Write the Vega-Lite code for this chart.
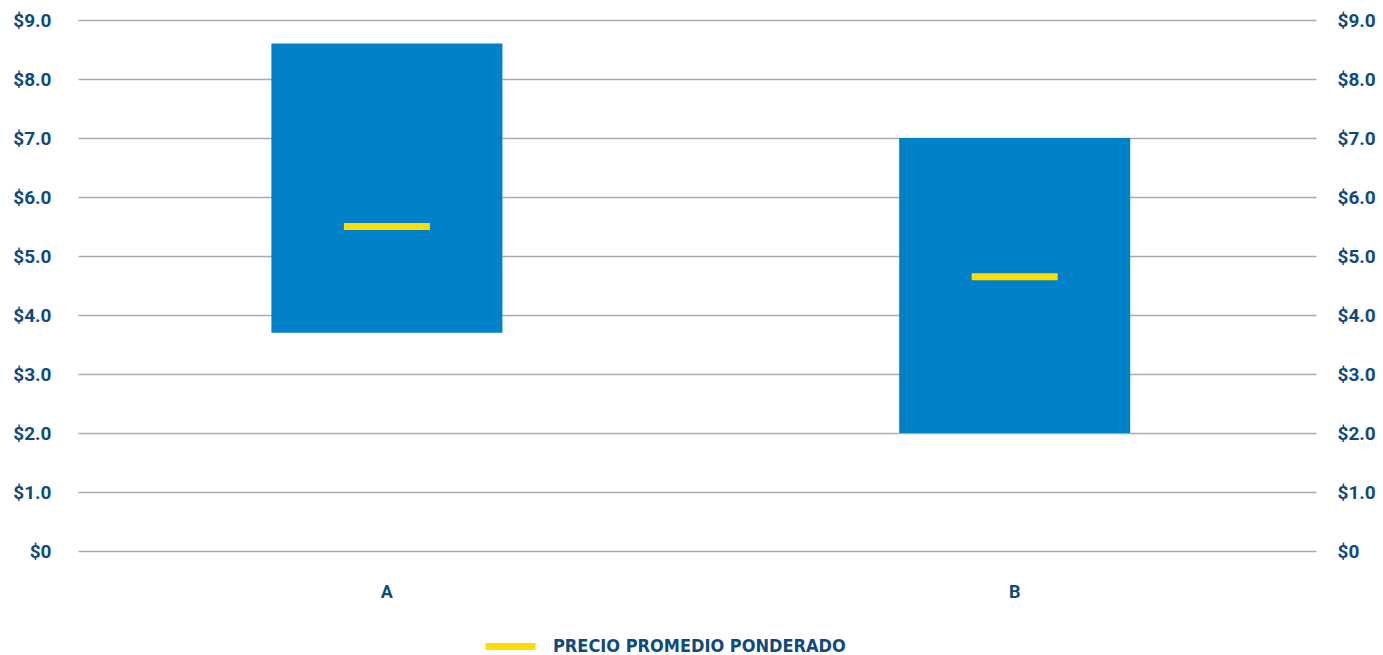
{
  "$schema": "https://vega.github.io/schema/vega-lite/v6.json",
  "width": 1238,
  "height": 531,
  "autosize": "none",
  "padding": {"left": 78, "top": 20, "right": 67, "bottom": 104},
  "background": "white",
  "config": {"view": {"stroke": null}},
  "data": {"values": [
    {"cat": "A", "low": 3.7, "high": 8.6, "avg": 5.5},
    {"cat": "B", "low": 2.0, "high": 7.0, "avg": 4.65}
  ]},
  "encoding": {
    "x": {"field": "cat", "type": "nominal", "title": null,
      "scale": {"paddingInner": 0.632, "paddingOuter": 0.302, "align": 0.51},
      "axis": {"domain": false, "ticks": false, "labelAngle": 0, "labelPadding": 32,
        "labelFont": "Roboto", "labelFontWeight": "bold", "labelFontSize": 18, "labelColor": "#0F4A7E"}}
  },
  "layer": [
    {
      "mark": {"type": "bar", "color": "#0082CA"},
      "encoding": {
        "y": {"field": "low", "type": "quantitative", "title": null,
          "scale": {"domain": [0, 9], "nice": false, "zero": true},
          "axis": {"orient": "left", "values": [0,1,2,3,4,5,6,7,8,9], "domain": false, "ticks": false,
            "grid": true, "gridColor": "#ABABAB", "gridWidth": 1.5, "labelPadding": 27,
            "labelExpr": "datum.value == 0 ? '$0' : '$' + format(datum.value, '.1f')",
            "labelFont": "Roboto", "labelFontWeight": "bold", "labelFontSize": 19, "labelColor": "#0F4A7E"}},
        "y2": {"field": "high"}
      }
    },
    {
      "mark": {"type": "tick", "size": 86, "thickness": 7, "opacity": 1},
      "encoding": {
        "y": {"field": "avg", "type": "quantitative", "title": null,
          "scale": {"domain": [0, 9], "nice": false, "zero": true},
          "axis": {"orient": "right", "values": [0,1,2,3,4,5,6,7,8,9], "domain": false, "ticks": false,
            "grid": false, "labelPadding": 21,
            "labelExpr": "datum.value == 0 ? '$0' : '$' + format(datum.value, '.1f')",
            "labelFont": "Roboto", "labelFontWeight": "bold", "labelFontSize": 19, "labelColor": "#0F4A7E"}},
        "color": {"datum": "PRECIO PROMEDIO PONDERADO", "type": "nominal",
          "scale": {"range": ["#FFDD00"]},
          "legend": {"title": null, "orient": "none", "legendX": 404, "legendY": 598,
            "symbolType": "stroke", "symbolStrokeWidth": 7, "symbolSize": 2500, "symbolStrokeColor": "#FFDD00", "symbolOpacity": 1,
            "labelFont": "DejaVu Sans Condensed", "labelFontWeight": "bold", "labelFontSize": 18,
            "labelColor": "#0F4A7E", "labelOffset": 14, "padding": 0, "labelLimit": 500}}
      }
    }
  ],
  "resolve": {"scale": {"y": "independent"}, "axis": {"y": "independent"}}
}
